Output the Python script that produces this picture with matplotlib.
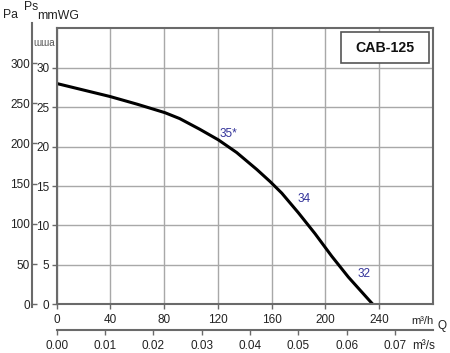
import matplotlib
matplotlib.use("Agg")
import matplotlib.pyplot as plt
from matplotlib.patches import Rectangle

plt.rcParams['font.family'] = ['Liberation Sans', 'DejaVu Sans']

# Data (flow m3/h, static pressure mmWG)
flow_m3h = [0, 39.7, 59.8, 80.6, 91.6, 106.5, 120.4, 134, 149, 159, 167.6, 180, 192.4, 204.8, 217.2, 235.4]
ps_mmwg = [28.0, 26.35, 25.38, 24.3, 23.55, 22.2, 20.85, 19.25, 17.1, 15.55, 14.1, 11.6, 8.95, 6.1, 3.45, 0]

# Curve annotations (label, flow, pressure)
ann_labels = ["35*", "34", "32"]
ann_flow = [127.6, 184.2, 229.0]
ann_ps = [21.6, 13.4, 3.8]

x_ticks = [0, 40, 80, 120, 160, 200, 240]
y_ticks = [0, 5, 10, 15, 20, 25, 30]
pa_ticks = [0, 50, 100, 150, 200, 250, 300]
ms_ticks = [0.00, 0.01, 0.02, 0.03, 0.04, 0.05, 0.06, 0.07]
model = "CAB-125"

W, H = 450, 353
fig = plt.figure(figsize=(W / 100, H / 100), dpi=100)
L, R, T, B = 56.7, 432.7, 28.3, 304.3
ax = fig.add_axes([L / W, 1 - B / H, (R - L) / W, (B - T) / H])

frame_c = '#6a6a6a'
grid_c = '#a8a8a8'
txt_c = '#222222'

ax.set_xlim(0, 280)
ax.set_ylim(0, 35)
ax.set_xticks(x_ticks)
ax.set_yticks(y_ticks)
ax.set_xticklabels([str(v) for v in x_ticks])
ax.set_yticklabels([str(v) for v in y_ticks])
ax.grid(True, color=grid_c, lw=1.0)
ax.set_axisbelow(True)
for s in ax.spines.values():
    s.set_color(frame_c)
    s.set_linewidth(1.5)
ax.tick_params(axis='both', direction='out', length=3.8, width=1.0, color=frame_c,
               labelsize=8.5, labelcolor=txt_c)
ax.tick_params(axis='y', pad=1.5)
ax.tick_params(axis='x', pad=3.5)

ax.plot(flow_m3h, ps_mmwg, color='black', lw=2.2, solid_capstyle='butt',
        solid_joinstyle='round')

for lab, fx, py in zip(ann_labels, ann_flow, ann_ps):
    ax.text(fx, py, lab, color='#33339a', fontsize=8.5, ha='center', va='center')

# Model box
bx0, bx1, by0, by1 = 341, 429, 32, 63
fig.patches.append(Rectangle((bx0 / W, 1 - by1 / H), (bx1 - bx0) / W, (by1 - by0) / H,
                             transform=fig.transFigure, fc='white', ec='#555555', lw=1.2,
                             zorder=5))
fig.text((bx0 + bx1) / 2 / W, 1 - (by0 + by1) / 2 / H, model, fontsize=10.2,
         fontweight='bold', ha='center', va='center', color='#111111', zorder=6)

# Pa secondary axis
k = 9.80665
pa_loc = -(L - 32.3) / (R - L)
secy = ax.secondary_yaxis(pa_loc, functions=(lambda v: v * k, lambda v: v / k))
secy.set_yticks(pa_ticks)
secy.set_yticklabels([str(v) for v in pa_ticks])
secy.tick_params(direction='in', length=3.8, width=1.0, color=frame_c, labelsize=8.5,
                 labelcolor=txt_c, pad=1.5)
secy.spines['left'].set_color(frame_c)
secy.spines['left'].set_linewidth(1.5)
secy.spines['left'].set_bounds(-3, 350)

# m3/s secondary axis
ms_loc = -(330 - B) / (B - T)
secx = ax.secondary_xaxis(ms_loc, functions=(lambda v: v / 3600, lambda v: v * 3600))
secx.set_xticks(ms_ticks)
secx.set_xticklabels([f"{v:.2f}" for v in ms_ticks])
secx.tick_params(direction='out', length=3.8, width=1.0, color=frame_c, labelsize=8.5,
                 labelcolor=txt_c, pad=3.5)
secx.spines['bottom'].set_color(frame_c)
secx.spines['bottom'].set_linewidth(1.5)

# Unit labels
fig.text(3 / W, 1 - 15.5 / H, "Pa", fontsize=8.8, ha='left', va='center', color=txt_c)
fig.text(24 / W, 1 - 6.5 / H, "Ps", fontsize=8.8, ha='left', va='center', color=txt_c)
fig.text(37 / W, 1 - 16 / H, "mmWG", fontsize=8.8, ha='left', va='center', color=txt_c)
fig.text(44 / W, 1 - 43.5 / H, "ɯɯa", fontsize=7, ha='center', va='center', color='#555555')
fig.text(422 / W, 1 - 321.5 / H, "m³/h", fontsize=8, ha='center', va='center', color=txt_c)
fig.text(442 / W, 1 - 326.5 / H, "Q", fontsize=8.5, ha='center', va='center', color=txt_c)
fig.text(424 / W, 1 - 346 / H, "m³/s", fontsize=8.5, ha='center', va='center', color=txt_c)

fig.savefig("out.png", dpi=100)
